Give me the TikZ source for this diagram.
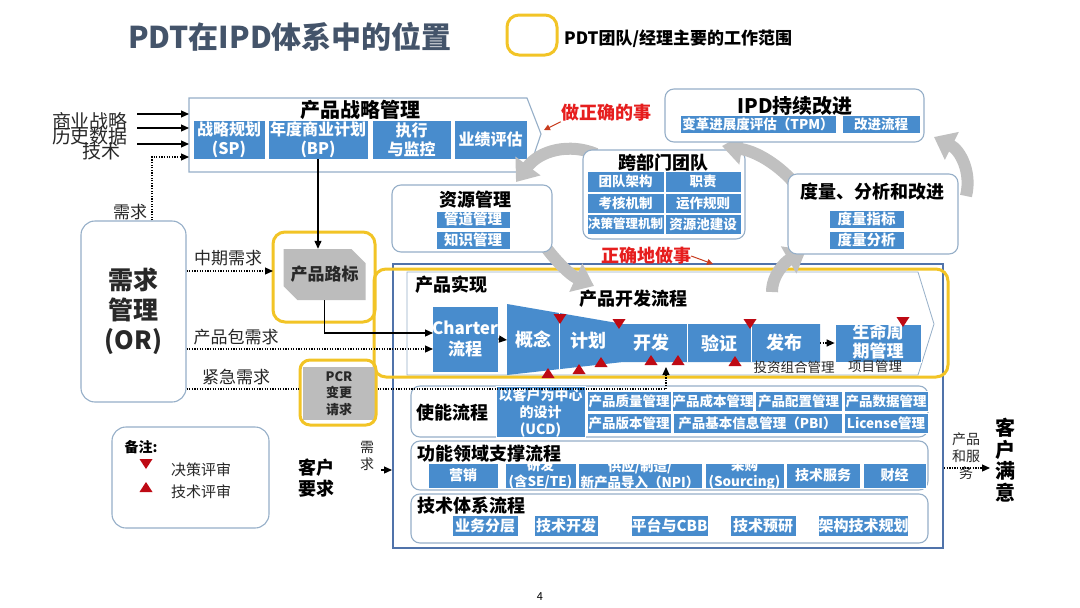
\documentclass[tikz,border=0pt]{standalone}
\usepackage{fontspec}
\setmainfont{Noto Sans CJK SC}
\setsansfont{Noto Sans CJK SC}
\usetikzlibrary{arrows.meta,shapes.misc}
\definecolor{blueC}{RGB}{72,140,205}
\definecolor{yel}{RGB}{242,196,38}
\definecolor{frameB}{RGB}{80,115,170}
\definecolor{lineG}{RGB}{150,175,200}
\definecolor{grayA}{RGB}{192,192,192}
\definecolor{grayF}{RGB}{188,188,188}
\definecolor{redT}{RGB}{190,10,20}
\definecolor{redX}{RGB}{230,30,30}
\definecolor{redA}{RGB}{200,60,30}
\definecolor{titleC}{RGB}{68,84,106}
\definecolor{darkT}{RGB}{40,40,40}
\newcommand\fz[2]{\fontsize{#1}{#2}\selectfont}
\newcommand\bx[7]{\node[#6, minimum width={(#4)-(#2)}, minimum height={(#5)-(#3)}] (#1) at ({((#2)+(#4))/2},{((#3)+(#5))/2}) {#7};}
\begin{document}
\begin{tikzpicture}[x=1pt,y=-1pt,
  cell/.style={fill=blueC,draw=white,line width=0.7pt,text=white,inner sep=0pt,align=center,font=\bfseries\fz{14}{16}},
  ctext/.style={text=white,inner sep=0pt,align=center,font=\bfseries\fz{14}{16}},
  rbox/.style={draw=lineG,line width=1.1pt,rounded corners=9pt,fill=white,inner sep=0pt},
  ybox/.style={draw=yel,line width=3pt,rounded corners=12pt,inner sep=0pt},
  ttl/.style={font=\bfseries\fz{18}{20},text=black,inner sep=0pt},
  lbl/.style={font=\fz{17}{19},text=darkT,inner sep=0pt},
  garrow/.style={draw=grayA,line width=12pt,-{Triangle[width=30pt,length=20pt]}},
  redsm/.style={draw=redA,line width=1pt,-{Triangle[length=6pt,width=6pt]}},
  barr/.style={draw=black,line width=1.2pt,-{Triangle[length=8pt,width=7pt]}},
  dline/.style={draw=black,line width=1.2pt,dash pattern=on 1.3pt off 1.3pt},
  darr/.style={dline,-{Triangle[length=8pt,width=7pt]}},
  tdn/.pic={\fill[redT] (-6.5,-5)--(6.5,-5)--(0,5)--cycle;},
  tup/.pic={\fill[redT] (-6.5,5)--(6.5,5)--(0,-5)--cycle;}]
\useasboundingbox (0,0) rectangle (1080,608);
\fill[white] (0,0) rectangle (1080,608);

% ---------- title & legend
\node[anchor=west,font=\bfseries\fz{30}{32},text=titleC,inner sep=0pt] (title) at (128,37) {PDT在IPD体系中的位置};
\bx{lgy}{507}{15}{557}{55}{ybox}{}
\node[anchor=west,font=\bfseries\fz{17}{19},inner sep=0pt] (lgt) at (564,39) {PDT团队/经理主要的工作范围};

% ---------- lower frame: product realization
\bx{frame}{393}{264}{943}{548}{draw=frameB,line width=2pt,inner sep=0pt}{}
\draw[draw=lineG,line width=0.8pt] (407,272) -- (918,272) -- (934,324) -- (918,375) -- (407,375) -- cycle;
\bx{ypr}{374}{269}{948}{377}{ybox}{}
\node[ttl] (cpsx) at (451,285) {产品实现};
\node[ttl] (cpkf) at (633,299) {产品开发流程};
\bx{ch}{433}{306}{497}{372}{cell,font=\bfseries\fz{17}{21}}{Charter\\流程}
\fill[blueC] (507,304) -- (623,324) -- (820,324) -- (820,362) -- (623,362) -- (507,375) -- cycle;
\draw[white,line width=1pt] (559,313) -- (559,369) (687,324) -- (687,362) (751,324) -- (751,362);
\coordinate (fnL) at (507,340);
\coordinate (fnR) at (820,343);
\node[ctext,font=\bfseries\fz{18}{20}] (gn) at (533,340) {概念};
\node[ctext,font=\bfseries\fz{18}{20}] (jh) at (588,341) {计划};
\node[ctext,font=\bfseries\fz{18}{20}] (kf) at (651,343) {开发};
\node[ctext,font=\bfseries\fz{18}{20}] (yz) at (719,343) {验证};
\node[ctext,font=\bfseries\fz{18}{20}] (fb) at (784,343) {发布};
\bx{lcm}{835}{324}{921}{362}{cell,font=\bfseries\fz{17}{19}}{}
\node[ctext,font=\bfseries\fz{17}{19}] (lcmT) at (878,341) {生命周\\期管理};
\draw[darr] (ch.east) -- (fnL);
\draw[darr] (fnR) -- (lcm.west);
\pic at (560,319) {tdn};
\pic at (619,324) {tdn};
\pic at (750,324) {tdn};
\pic at (903,322) {tdn};
\pic at (548,373) {tup};
\pic at (579,369) {tup};
\pic at (601,362) {tup};
\pic at (651,360) {tup};
\pic at (678,360) {tup};
\pic at (735,361) {tup};
\node[lbl,font=\fz{13.5}{15}] (tzzh) at (794,367) {投资组合管理};
\node[lbl,font=\fz{13.5}{15}] (xmgl) at (875,366) {项目管理};

% enabling processes
\bx{en}{411}{386}{928}{437}{rbox}{}
\node[ttl] (enT) at (452,413) {使能流程};
\bx{ucd}{496}{386}{585}{437}{cell}{}
\node[ctext,font=\bfseries\fz{14}{17}] (ucdT) at (540.5,413) {以客户为中心\\的设计\\(UCD)};
\bx{e1}{587}{391}{671}{411}{cell,font=\bfseries\fz{13.5}{15}}{产品质量管理}
\bx{e2}{673}{391}{753}{411}{cell,font=\bfseries\fz{13.5}{15}}{产品成本管理}
\bx{e3}{755}{391}{842}{411}{cell,font=\bfseries\fz{13.5}{15}}{产品配置管理}
\bx{e4}{844}{391}{928}{411}{cell,font=\bfseries\fz{13.5}{15}}{产品数据管理}
\bx{e5}{587}{413}{671}{433}{cell,font=\bfseries\fz{13.5}{15}}{产品版本管理}
\bx{e6}{673}{413}{842}{433}{cell,font=\bfseries\fz{13.5}{15}}{产品基本信息管理（PBI）}
\bx{e7}{844}{413}{928}{433}{cell,font=\bfseries\fz{13.5}{15}}{License管理}

% functional support processes
\bx{fn}{411}{441}{928}{490}{rbox}{}
\bx{f1}{428}{463}{498}{488}{cell,font=\bfseries\fz{14}{16}}{营销}
\bx{f2}{505}{463}{576}{488}{cell}{}
\bx{f3}{578}{463}{702}{488}{cell}{}
\bx{f4}{705}{463}{784}{488}{cell}{}
\bx{f5}{786}{463}{860}{488}{cell,font=\bfseries\fz{14}{16}}{技术服务}
\bx{f6}{863}{463}{926}{488}{cell,font=\bfseries\fz{14}{16}}{财经}
\node[ctext,font=\bfseries\fz{13.5}{16}] (f2T) at (540.5,474) {研发\\(含SE/TE)};
\node[ctext,font=\bfseries\fz{13.5}{16}] (f3T) at (640,474) {供应/制造/\\新产品导入（NPI）};
\node[ctext,font=\bfseries\fz{13.5}{16}] (f4T) at (744.5,474) {采购\\(Sourcing)};
\node[ttl] (fnT) at (489,454) {功能领域支撑流程};

% technology processes
\bx{tk}{411}{494}{928}{543}{rbox}{}
\bx{t1}{452}{515}{518}{536}{cell,font=\bfseries\fz{15}{17}}{业务分层}
\bx{t2}{534}{515}{598}{536}{cell,font=\bfseries\fz{15}{17}}{技术开发}
\bx{t3}{631}{515}{708}{536}{cell,font=\bfseries\fz{15}{17}}{平台与CBB}
\bx{t4}{730}{515}{796}{536}{cell,font=\bfseries\fz{15}{17}}{技术预研}
\bx{t5}{821}{515}{906}{536}{cell,font=\bfseries\fz{15}{17}}{架构技术规划}
\node[ttl] (tkT) at (471,506) {技术体系流程};

% ---------- gray cycle arrows (coordinates)
\coordinate (gA0) at (596,154); \coordinate (gA1) at (516,182);
\coordinate (gB0) at (538,236); \coordinate (gB1) at (594,286);
\coordinate (gC0) at (772,292); \coordinate (gC1) at (806,250);
\coordinate (gD0) at (798,188); \coordinate (gD1) at (722,146);
\coordinate (gE0) at (966,196); \coordinate (gE1) at (934,137);
\draw[garrow] (gB0) .. controls (552,258) and (570,275) .. (gB1);
\draw[garrow] (gC0) .. controls (772,275) and (785,262) .. (gC1);

% ---------- upper boxes
\draw[draw=lineG,line width=1.1pt,fill=white] (189,98) -- (527,98) -- (541,134) -- (528,172) -- (189,172) -- cycle;
\coordinate (psmW) at (189,134);
\coordinate (psmTip) at (544,130);
\node[ttl,font=\bfseries\fz{20}{22}] (psmT) at (360,110) {产品战略管理};
\bx{sp}{193}{120}{265}{159}{cell,font=\bfseries\fz{16}{19}}{战略规划\\(SP)}
\bx{bp}{268}{120}{368}{159}{cell,font=\bfseries\fz{16}{19}}{年度商业计划\\(BP)}
\bx{exe}{372}{120}{451}{159}{cell,font=\bfseries\fz{16}{19}}{执行\\与监控}
\bx{eva}{454}{120}{527}{159}{cell,font=\bfseries\fz{16}{19}}{业绩评估}

\node[font=\bfseries\fz{18}{20},text=redX,inner sep=0pt] (dzs) at (606,113) {做正确的事};
\draw[redsm] (dzs.south west) -- (psmTip);

\bx{res}{392}{185}{552}{252}{rbox}{}
\node[ttl] (resT) at (475,200) {资源管理};
\bx{r1}{436}{211}{510}{228}{cell,font=\bfseries\fz{14.5}{16}}{管道管理}
\bx{r2}{436}{231}{510}{249}{cell,font=\bfseries\fz{14.5}{16}}{知识管理}

\draw[garrow] (gA0) .. controls (570,143) and (540,150) .. (gA1);

\bx{cft}{583}{150}{745}{239}{rbox}{}
\node[ttl] (cftT) at (663,163) {跨部门团队};
\bx{c1}{587}{171}{664}{192}{cell,font=\bfseries\fz{13.5}{15}}{团队架构}
\bx{c2}{665}{171}{741}{192}{cell,font=\bfseries\fz{13.5}{15}}{职责}
\bx{c3}{587}{193}{664}{213}{cell,font=\bfseries\fz{13.5}{15}}{考核机制}
\bx{c4}{665}{193}{741}{213}{cell,font=\bfseries\fz{13.5}{15}}{运作规则}
\bx{c5}{587}{214}{664}{234}{cell,font=\bfseries\fz{12.5}{14}}{决策管理机制}
\bx{c6}{665}{214}{741}{234}{cell,font=\bfseries\fz{13.5}{15}}{资源池建设}

\draw[garrow] (gD0) .. controls (785,170) and (760,152) .. (gD1);
\draw[garrow] (gE0) .. controls (972,172) and (960,150) .. (gE1);

\bx{msr}{788}{174}{958}{254}{rbox}{}
\node[ttl] (msrT) at (872,192) {度量、分析和改进};
\bx{m1}{829}{210}{904}{228}{cell,font=\bfseries\fz{14.5}{16}}{度量指标}
\bx{m2}{829}{231}{904}{249}{cell,font=\bfseries\fz{14.5}{16}}{度量分析}

\bx{ipd}{665}{89}{924}{142}{rbox}{}
\node[ttl,font=\bfseries\fz{20}{22}] (ipdT) at (795,106) {IPD持续改进};
\bx{tpm}{680}{115}{836}{133}{cell,font=\bfseries\fz{13.5}{15}}{变革进展度评估（TPM）}
\bx{gjlc}{842}{115}{920}{133}{cell,font=\bfseries\fz{13.5}{15}}{改进流程}

\node[font=\bfseries\fz{18}{20},text=redX,inner sep=0pt] (zqd) at (646,256) {正确地做事};
\coordinate (zqdA) at (713,264);
\draw[redsm] (zqd.east) -- (zqdA);

% ---------- left side
\node[lbl,font=\fz{19}{19}] (i1) at (90,121) {商业战略};
\node[lbl,font=\fz{19}{19}] (i2) at (90,136) {历史数据};
\node[lbl,font=\fz{19}{19}] (i3) at (101,151) {技术};
\coordinate (a1) at (137,114);
\coordinate (a2) at (137,128);
\coordinate (a3) at (137,144);
\coordinate (dq) at (152,157);
\draw[barr] (a1) -- (a1 -| psmW);
\draw[barr] (a2) -- (a2 -| psmW);
\draw[barr] (a3) -- (a3 -| psmW);

\bx{or}{81}{221}{186}{402}{rbox,rounded corners=14pt,font=\bfseries\fz{25}{30},align=center,text=darkT}{需求\\管理\\(OR)}
\draw[darr] (or.north -| dq) -- (dq) -- (dq -| psmW);
\node[lbl] (xq1) at (130,212) {需求};

\node[chamfered rectangle,chamfered rectangle xsep=7pt,chamfered rectangle ysep=7pt,chamfered rectangle corners={north east,south west},fill=grayF,minimum width=81pt,minimum height=51pt,inner sep=0pt,font=\bfseries\fz{17}{19},text=darkT] (rm) at (324.5,274.5) {产品路标};
\bx{yrm}{273}{232}{375}{322}{ybox}{}
\draw[barr] (bp.south) -- (bp.south |- rm.north);
\coordinate (pk) at (433,333);
\draw[barr] (rm.south) |- (pk);

\node[lbl] (zqxq) at (228,258) {中期需求};
\coordinate (mq) at (273,271);
\draw[darr] (or.east |- mq) -- (mq);
\node[lbl] (cpbxq) at (236,337) {产品包需求};
\coordinate (pb) at (433,349);
\draw[darr] (or.east |- pb) -- (pb);

\bx{pcr}{303}{367}{375}{420}{fill=grayF,inner sep=0pt,font=\bfseries\fz{13}{16.5},align=center,text=darkT}{PCR\\变更\\请求}
\bx{ypcr}{300}{360}{376}{425}{ybox,rounded corners=10pt}{}
\node[lbl] (jjxq) at (236,377) {紧急需求};
\coordinate (jy) at (0,389);
\coordinate (jq) at (666,367);
\draw[dline] (or.east |- jy) -- (ypcr.west |- jy);
\draw[darr] (ypcr.east |- jy) -- (jq |- jy) -- (jq);

% legend
\bx{lg}{112}{427}{269}{528}{rbox,rounded corners=14pt}{}
\node[font=\bfseries\fz{14}{16},inner sep=0pt] (bz) at (141,447) {备注:};
\pic at (146,464) {tdn};
\pic at (146,487) {tup};
\node[lbl,font=\fz{15}{17}] (jcps) at (201,470) {决策评审};
\node[lbl,font=\fz{15}{17}] (jsps) at (201,492) {技术评审};

\node[font=\bfseries\fz{18}{21},align=center,inner sep=0pt] (khyq) at (316,478) {客户\\要求};
\node[font=\fz{14}{17},align=center,inner sep=0pt,text=darkT] (xq2) at (367,456) {需\\求};
\coordinate (xqa) at (381,470);
\draw[barr] (xqa) -- (xqa -| frame.west);

% right side
\node[font=\fz{14}{17},align=center,inner sep=0pt,text=darkT] (cpfw) at (966,456) {产品\\和服\\务};
\coordinate (cpa) at (990,468);
\draw[darr] (frame.east |- cpa) -- (cpa);
\node[font=\bfseries\fz{20}{21.5},align=center,inner sep=0pt] (khmy) at (1005,460) {客\\户\\满\\意};

\node[font=\fz{11}{12},inner sep=0pt] (pg) at (540,597) {4};
\end{tikzpicture}
\end{document}
